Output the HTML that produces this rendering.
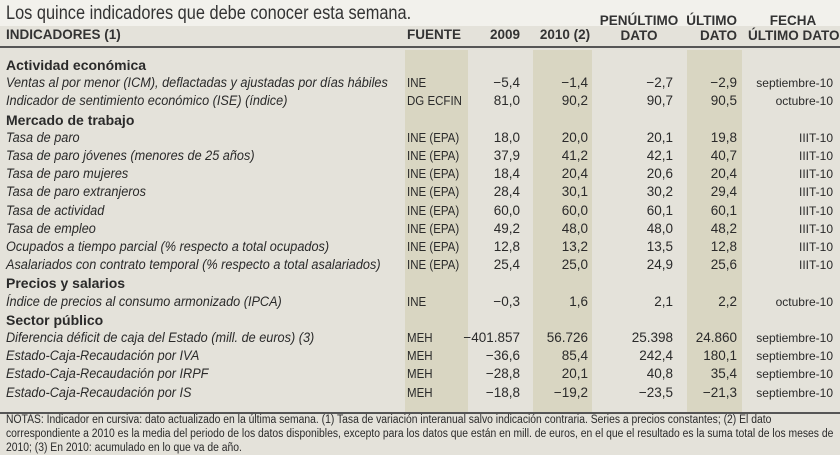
<!DOCTYPE html>
<html><head><meta charset="utf-8"><style>
body{margin:0;width:840px;height:453px;overflow:hidden;background:#e4e2da;font-family:"Liberation Sans Narrow","Liberation Sans",sans-serif;color:#2a2a2a;position:relative}
.t{position:absolute;white-space:nowrap;font-size:13.5px;line-height:18px}
.sh{position:absolute;top:50px;height:362px;background:#d9d6c2}
.r{text-align:right}.c{text-align:center}
.i{font-style:italic;transform:scaleX(.94);transform-origin:left}.b{font-weight:bold;font-size:14px}
.h{font-weight:bold;font-size:13.5px;line-height:15px;color:#333}
</style></head><body>
<div style="position:absolute;left:0;top:0;width:840px;height:26px;background:#f2f1ec"></div>
<div class="sh" style="left:405px;width:63px"></div>
<div class="sh" style="left:533px;width:59px"></div>
<div class="sh" style="left:687px;width:55px"></div>
<div class="t" style="left:6px;top:3px;font-size:19px;line-height:22px;font-family:'Liberation Sans',sans-serif;transform:scale(.86,1);transform-origin:left;color:#333">Los quince indicadores que debe conocer esta semana.</div>
<div class="t h" style="left:6px;top:27px">INDICADORES (1)</div>
<div class="t h" style="left:407px;top:27px">FUENTE</div>
<div class="t h c" style="left:480px;width:50px;top:27px">2009</div>
<div class="t h c" style="left:535px;width:60px;top:27px">2010 (2)</div>
<div class="t h c" style="left:598px;width:82px;top:13px">PENÚLTIMO<br>DATO</div>
<div class="t h r" style="left:680px;width:57px;top:13px">ÚLTIMO<br>DATO</div>
<div class="t h c" style="left:748px;width:90px;top:13px">FECHA<br>ÚLTIMO DATO</div>
<div style="position:absolute;left:0;top:46px;width:840px;height:1.5px;background:#555"></div>
<div style="position:absolute;left:0;top:412px;width:840px;height:1.5px;background:#555"></div>
<div id="rows"></div>
<div class="t" style="left:6px;top:413px;font-size:11.5px;line-height:14px;width:920px;white-space:normal;transform:scaleX(.9);transform-origin:left">NOTAS: Indicador en cursiva: dato actualizado en la última semana. (1) Tasa de variación interanual salvo indicación contraria. Series a precios constantes; (2) El dato correspondiente a 2010 es la media del periodo de los datos disponibles, excepto para los datos que están en mill. de euros, en el que el resultado es la suma total de los meses de 2010; (3) En 2010: acumulado en lo que va de año.</div>
<script>
var R=[["Actividad económica"],
["Ventas al por menor (ICM), deflactadas y ajustadas por días hábiles","INE","−5,4","−1,4","−2,7","−2,9","septiembre-10"],
["Indicador de sentimiento económico (ISE) (índice)","DG ECFIN","81,0","90,2","90,7","90,5","octubre-10"],
["Mercado de trabajo"],
["Tasa de paro","INE (EPA)","18,0","20,0","20,1","19,8","IIIT-10"],
["Tasa de paro jóvenes (menores de 25 años)","INE (EPA)","37,9","41,2","42,1","40,7","IIIT-10"],
["Tasa de paro mujeres","INE (EPA)","18,4","20,4","20,6","20,4","IIIT-10"],
["Tasa de paro extranjeros","INE (EPA)","28,4","30,1","30,2","29,4","IIIT-10"],
["Tasa de actividad","INE (EPA)","60,0","60,0","60,1","60,1","IIIT-10"],
["Tasa de empleo","INE (EPA)","49,2","48,0","48,0","48,2","IIIT-10"],
["Ocupados a tiempo parcial (% respecto a total ocupados)","INE (EPA)","12,8","13,2","13,5","12,8","IIIT-10"],
["Asalariados con contrato temporal (% respecto a total asalariados)","INE (EPA)","25,4","25,0","24,9","25,6","IIIT-10"],
["Precios y salarios"],
["Índice de precios al consumo armonizado (IPCA)","INE","−0,3","1,6","2,1","2,2","octubre-10"],
["Sector público"],
["Diferencia déficit de caja del Estado (mill. de euros) (3)","MEH","−401.857","56.726","25.398","24.860","septiembre-10"],
["Estado-Caja-Recaudación por IVA","MEH","−36,6","85,4","242,4","180,1","septiembre-10"],
["Estado-Caja-Recaudación por IRPF","MEH","−28,8","20,1","40,8","35,4","septiembre-10"],
["Estado-Caja-Recaudación por IS","MEH","−18,8","−19,2","−23,5","−21,3","septiembre-10"]];
var h="";
R.forEach(function(r,k){var y=56+k*18.2;
if(r.length==1){h+='<div class="t b" style="left:6px;top:'+y+'px">'+r[0]+'</div>';return;}
h+='<div class="t i" style="left:6px;top:'+y+'px">'+r[0]+'</div>';
h+='<div class="t" style="left:407px;top:'+y+'px;font-size:12.5px;transform:scaleX(.92);transform-origin:left">'+r[1]+'</div>';
var xs=[520,588,673,737];
for(var j=0;j<4;j++)h+='<div class="t r" style="left:'+(xs[j]-80)+'px;width:80px;top:'+y+'px">'+r[2+j]+'</div>';
h+='<div class="t r" style="left:733px;width:100px;top:'+y+'px;font-size:12px">'+r[6]+'</div>';});
document.getElementById("rows").innerHTML=h;
</script>
</body></html>
